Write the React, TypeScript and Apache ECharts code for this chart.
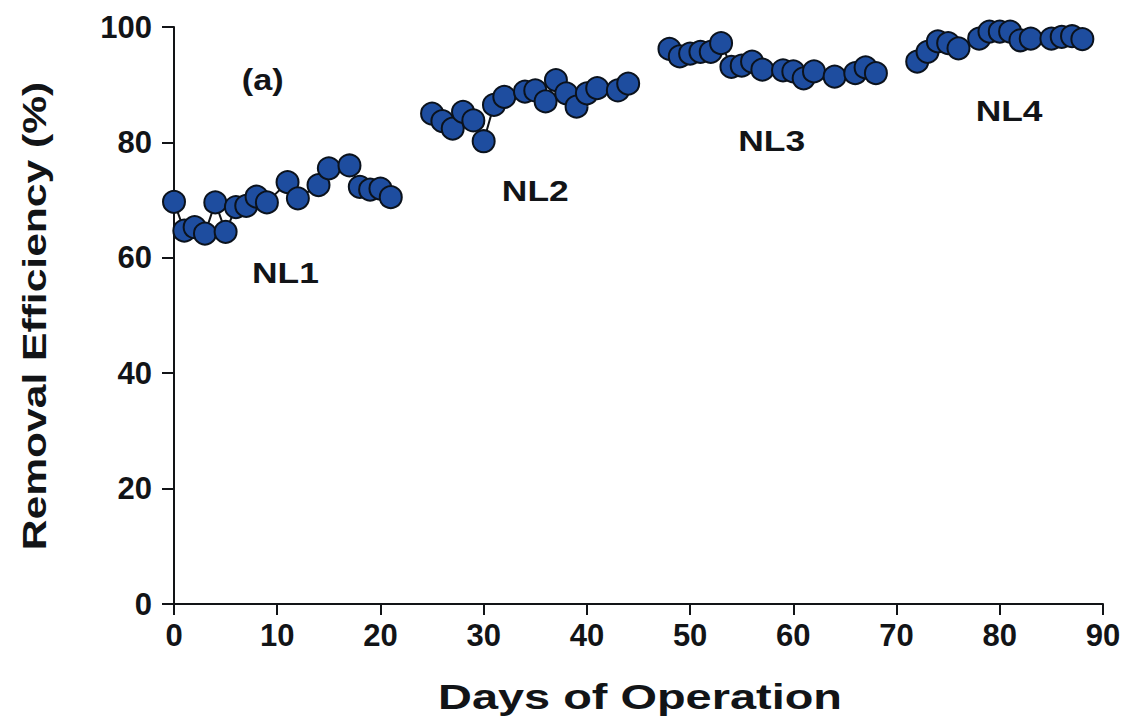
import React, { useEffect, useRef } from "react";
import * as echarts from "echarts";

const nl1Days = [0, 1, 2, 3, 4, 5, 6, 7, 8, 9, 11, 12, 14, 15, 17, 18, 19, 20, 21];
const nl1Vals = [69.7, 64.7, 65.3, 64.2, 69.6, 64.5, 68.8, 69.0, 70.6, 69.6, 73.1, 70.3, 72.6, 75.5, 76.0, 72.3, 71.8, 72.0, 70.5];

const nl2Days = [25, 26, 27, 28, 29, 30, 31, 32, 34, 35, 36, 37, 38, 39, 40, 41, 43, 44];
const nl2Vals = [85.0, 83.7, 82.4, 85.3, 83.8, 80.2, 86.5, 87.9, 88.8, 89.0, 87.1, 90.8, 88.5, 86.2, 88.5, 89.4, 89.0, 90.2];

const nl3Days = [48, 49, 50, 51, 52, 53, 54, 55, 56, 57, 59, 60, 61, 62, 64, 66, 67, 68];
const nl3Vals = [96.2, 94.9, 95.4, 95.7, 95.7, 97.2, 93.1, 93.3, 94.0, 92.6, 92.5, 92.3, 91.1, 92.3, 91.4, 92.0, 93.0, 92.0];

const nl4Days = [72, 73, 74, 75, 76, 78, 79, 80, 81, 82, 83, 85, 86, 87, 88];
const nl4Vals = [94.0, 95.7, 97.5, 97.2, 96.3, 98.0, 99.2, 99.2, 99.2, 97.7, 98.0, 98.0, 98.3, 98.4, 97.9];

const phaseLabels = ["NL1", "NL2", "NL3", "NL4"];
const phaseLabelPos = [
  [10.8, 57.5],
  [35.0, 71.7],
  [57.9, 80.4],
  [80.9, 85.6],
];
const panelLabel = "(a)";
const panelLabelPos = [8.6, 90.8];
const xTitle = "Days of Operation";
const yTitle = "Removal Efficiency (%)";

const FONT = "'Liberation Sans', Arial, sans-serif";
const INK = "#121417";

export default function App() {
  const ref = useRef<HTMLDivElement>(null);
  useEffect(() => {
    if (!ref.current) return;
    const chart = echarts.init(ref.current, undefined, { renderer: "svg" });
    const phases = [
      [nl1Days, nl1Vals],
      [nl2Days, nl2Vals],
      [nl3Days, nl3Vals],
      [nl4Days, nl4Vals],
    ];
    const series: any[] = phases.map(([d, v], i) => ({
      type: "line",
      name: phaseLabels[i],
      data: (d as number[]).map((x, j) => [x, (v as number[])[j]]),
      symbol: "circle",
      symbolSize: 22,
      lineStyle: { color: INK, width: 2 },
      itemStyle: { color: "#1e4d9f", borderColor: "#0b121c", borderWidth: 2 },
      z: 3,
    }));
    chart.setOption({
      animation: false,
      backgroundColor: "#ffffff",
      grid: { left: 174, right: 26, top: 27, bottom: 117, containLabel: false },
      xAxis: {
        type: "value",
        min: 0,
        max: 90,
        interval: 10,
        axisLine: { lineStyle: { color: INK, width: 2 } },
        axisTick: { show: true, length: 11, inside: false, lineStyle: { color: INK, width: 2 } },
        axisLabel: { fontFamily: FONT, fontWeight: "bold", fontSize: 31, color: INK, margin: 16 },
        splitLine: { show: false },
      },
      yAxis: {
        type: "value",
        min: 0,
        max: 100,
        interval: 20,
        axisLine: { onZero: false, lineStyle: { color: INK, width: 2 } },
        axisTick: { show: true, length: 12, lineStyle: { color: INK, width: 2 } },
        axisLabel: { fontFamily: FONT, fontWeight: "bold", fontSize: 31, color: INK, margin: 22 },
        splitLine: { show: false },
      },
      series,
    });

    const toPx = (p: number[]) => chart.convertToPixel({ gridIndex: 0 }, p) as number[];
    const graphics: any[] = [];
    phaseLabels.forEach((t, i) => {
      const [px, py] = toPx(phaseLabelPos[i]);
      graphics.push({
        type: "text",
        x: px,
        y: py,
        scaleX: 1.18,
        style: { text: t, font: `bold 30px ${FONT}`, fill: INK, align: "center", verticalAlign: "middle" },
      });
    });
    {
      const [px, py] = toPx(panelLabelPos);
      graphics.push({
        type: "text",
        x: px,
        y: py,
        scaleX: 1.18,
        style: { text: panelLabel, font: `bold 29px ${FONT}`, fill: INK, align: "center", verticalAlign: "middle" },
      });
    }
    graphics.push({
      type: "text",
      x: 640,
      y: 697,
      scaleX: 1.34,
      style: { text: xTitle, font: `bold 35px ${FONT}`, fill: INK, align: "center", verticalAlign: "middle" },
    });
    graphics.push({
      type: "text",
      x: 35,
      y: 316,
      rotation: Math.PI / 2,
      scaleX: 1.29,
      style: { text: yTitle, font: `bold 33px ${FONT}`, fill: INK, align: "center", verticalAlign: "middle" },
    });
    chart.setOption({ graphic: graphics });
    return () => chart.dispose();
  }, []);
  return <div ref={ref} style={{ width: 1129, height: 721, position: "absolute", left: 0, top: 0 }} />;
}
